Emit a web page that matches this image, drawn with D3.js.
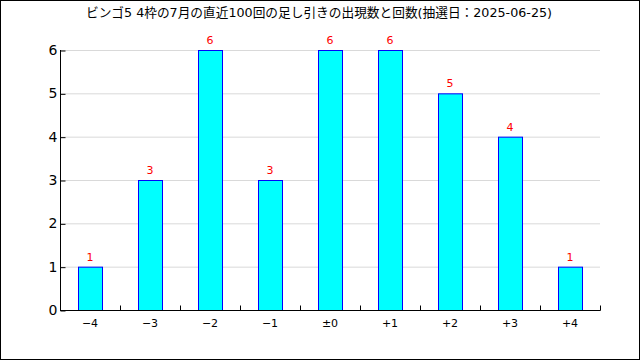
<!DOCTYPE html>
<html>
<head>
<meta charset="utf-8">
<script src="https://cdn.jsdelivr.net/npm/d3@7"></script>
<style>
  body { margin: 0; background: #fff; }
  svg { display: block; }
  text { font-family: "DejaVu Sans", "Noto Sans CJK JP", sans-serif; }
</style>
</head>
<body>
<svg id="chart"></svg>
<script>
let categories = ["\u22124", "\u22123", "\u22122", "\u22121", "\u00b10", "+1", "+2", "+3", "+4"];
let counts = [1, 3, 6, 3, 6, 6, 5, 4, 1];
let yTicks = [0, 1, 2, 3, 4, 5, 6];
let title = "ビンゴ5 4枠の7月の直近100回の足し引きの出現数と回数(抽選日：2025-06-25)";

let W = 640, H = 360;
let margin = {top: 50, right: 40, bottom: 50, left: 60};
let width = W - margin.left - margin.right;
let height = H - margin.top - margin.bottom;

let svg = d3.select("svg#chart")
    .attr("width", W)
    .attr("height", H);

svg.append("rect")
    .attr("x", 0.5).attr("y", 0.5)
    .attr("width", W - 1).attr("height", H - 1)
    .attr("fill", "#fff")
    .attr("stroke", "#000");

svg.append("text")
    .attr("x", 319)
    .attr("y", 17)
    .attr("text-anchor", "middle")
    .attr("font-size", "12.7px")
    .attr("font-family", "'Noto Sans CJK JP', sans-serif")
    .text(title);

let g = svg.append("g")
    .attr("transform", "translate(" + margin.left + "," + margin.top + ")");

let yScale = d3.scaleLinear()
    .domain([0, 6])
    .range([height, 0]);

let xScale = d3.scaleBand()
    .domain(categories)
    .range([0, width])
    .paddingInner(0.6)
    .paddingOuter(0.3);

// grid
g.selectAll("line.grid")
    .data(yTicks.filter((d) => d > 0))
    .enter().append("line")
    .attr("class", "grid")
    .attr("x1", 0).attr("x2", width)
    .attr("y1", (d) => yScale(d) + 0.5)
    .attr("y2", (d) => yScale(d) + 0.5)
    .attr("stroke", "#d9d9d9");

// bars
g.selectAll("rect.bar")
    .data(counts)
    .enter().append("rect")
    .attr("class", "bar")
    .attr("x", (d, i) => xScale(categories[i]) + 0.5)
    .attr("y", (d) => yScale(d) + 0.5)
    .attr("width", xScale.bandwidth())
    .attr("height", (d) => height - yScale(d))
    .attr("fill", "#00ffff")
    .attr("stroke", "#0000ff")
    .attr("stroke-width", 1);

g.selectAll("text.label")
    .data(counts)
    .enter().append("text")
    .attr("class", "label")
    .attr("x", (d, i) => xScale(categories[i]) + xScale.bandwidth() / 2)
    .attr("y", (d) => yScale(d) - 6)
    .attr("text-anchor", "middle")
    .attr("font-size", "11px")
    .attr("fill", "#ff0000")
    .text((d) => d);

// y axis
let yAxis = g.append("g")
    .attr("transform", "translate(0.5,0)")
    .call(d3.axisLeft(yScale).tickValues(yTicks).tickFormat(d3.format("d")).tickSize(-5).tickPadding(3));
yAxis.selectAll("line").attr("transform", "translate(0,0.5)");
yAxis.select(".domain").attr("d", "M0," + yScale(6) + "V" + (height + 0.5));
yAxis.selectAll("text").attr("font-size", "14px").attr("fill", "#000");

// x axis
let bandStep = xScale.step();
let xAxis = g.append("g")
    .attr("transform", "translate(0," + (height + 0.5) + ")");
xAxis.append("line")
    .attr("x1", 0).attr("x2", width + 0.5)
    .attr("stroke", "#000");
xAxis.selectAll("line.tick")
    .data(d3.range(1, categories.length + 1))
    .enter().append("line")
    .attr("class", "tick")
    .attr("x1", (d) => d * bandStep + 0.5)
    .attr("x2", (d) => d * bandStep + 0.5)
    .attr("y1", 0).attr("y2", -5)
    .attr("stroke", "#000");
xAxis.selectAll("text")
    .data(categories)
    .enter().append("text")
    .attr("x", (d) => xScale(d) + xScale.bandwidth() / 2)
    .attr("y", 16)
    .attr("text-anchor", "middle")
    .attr("font-size", "11px")
    .text((d) => d);
</script>
</body>
</html>
